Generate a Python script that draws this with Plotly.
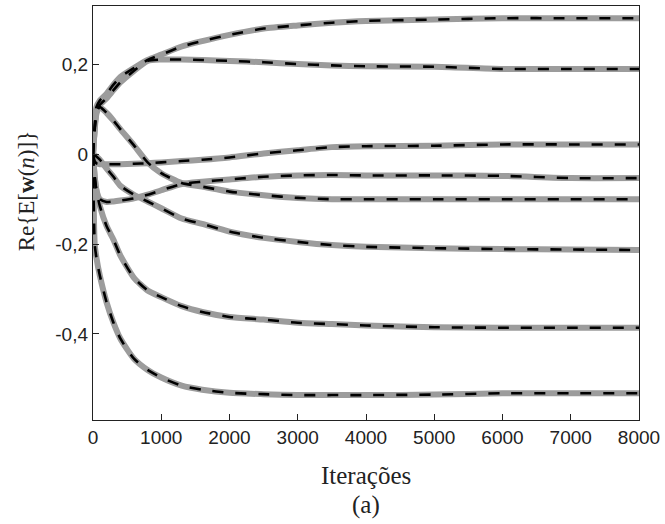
import plotly.graph_objects as go

# Iteration instants at which each coefficient trajectory is sampled
iteracoes = [0, 25, 50, 100, 200, 300, 400, 600, 800, 1000, 1300, 1600,
             2000, 2500, 3000, 3500, 4000, 5000, 6000, 7000, 8000]

# Real part of the mean weight vector, one list per coefficient
w1 = [0, 0.060, 0.105, 0.120, 0.135, 0.155, 0.172, 0.192, 0.210, 0.222, 0.240, 0.252,
      0.266, 0.280, 0.287, 0.293, 0.297, 0.300, 0.303, 0.303, 0.303]
w2 = [0, 0.055, 0.090, 0.110, 0.125, 0.143, 0.160, 0.186, 0.208, 0.211, 0.211, 0.210,
      0.208, 0.205, 0.201, 0.198, 0.196, 0.195, 0.190, 0.190, 0.190]
w3 = [0, -0.015, -0.020, -0.022, -0.022, -0.022, -0.022, -0.021, -0.020, -0.018, -0.015, -0.012,
      -0.007, 0.002, 0.009, 0.016, 0.018, 0.019, 0.022, 0.022, 0.022]
w4 = [0, -0.050, -0.080, -0.100, -0.106, -0.105, -0.103, -0.098, -0.090, -0.080, -0.066, -0.061,
      -0.056, -0.050, -0.047, -0.046, -0.047, -0.047, -0.048, -0.053, -0.053]
w5 = [0, 0.060, 0.095, 0.105, 0.092, 0.075, 0.056, 0.020, -0.018, -0.042, -0.064, -0.072,
      -0.083, -0.091, -0.097, -0.100, -0.100, -0.100, -0.100, -0.100, -0.100]
w6 = [0, -0.002, -0.005, -0.012, -0.032, -0.050, -0.070, -0.090, -0.105, -0.120, -0.143, -0.155,
      -0.172, -0.186, -0.195, -0.202, -0.206, -0.209, -0.211, -0.212, -0.213]
w7 = [0, -0.050, -0.080, -0.115, -0.160, -0.190, -0.225, -0.275, -0.303, -0.318, -0.338, -0.351,
      -0.362, -0.368, -0.375, -0.378, -0.381, -0.385, -0.386, -0.386, -0.386]
w8 = [0, -0.200, -0.230, -0.270, -0.330, -0.375, -0.410, -0.455, -0.480, -0.497, -0.515, -0.524,
      -0.531, -0.534, -0.536, -0.536, -0.536, -0.535, -0.532, -0.532, -0.532]

coeficientes = [w1, w2, w3, w4, w5, w6, w7, w8]

y_tick_vals = [-0.4, -0.2, 0, 0.2]
y_tick_text = ["-0,4", "-0,2", "0", "0,2"]
x_tick_vals = [0, 1000, 2000, 3000, 4000, 5000, 6000, 7000, 8000]

fig = go.Figure()

# Simulated trajectories: thick grey lines
for w in coeficientes:
    fig.add_trace(go.Scatter(
        x=iteracoes, y=w, mode="lines",
        line=dict(color="#9c9c9c", width=6, shape="spline", smoothing=0.6),
        showlegend=False, hoverinfo="skip"))

# Theoretical model: black dashed lines on top
for w in coeficientes:
    fig.add_trace(go.Scatter(
        x=iteracoes, y=w, mode="lines",
        line=dict(color="black", width=2.6, dash="11px,12px", shape="spline", smoothing=0.6),
        showlegend=False, hoverinfo="skip"))

sans = "Liberation Sans"
serif = "Liberation Serif"

axis_common = dict(
    showline=True, linecolor="#222222", linewidth=1.3, mirror=True,
    ticks="inside", ticklen=6, tickwidth=1, tickcolor="#222222",
    showgrid=False, zeroline=False,
    tickfont=dict(family=sans, size=19, color="#222222"),
)

fig.update_xaxes(range=[0, 8000], tickvals=x_tick_vals,
                 ticktext=[str(v) for v in x_tick_vals], **axis_common)
fig.update_yaxes(range=[-0.5915, 0.3302], tickvals=y_tick_vals,
                 ticktext=y_tick_text, **axis_common)

fig.add_annotation(text="Iterações", xref="paper", yref="paper",
                   x=0.5, y=-0.133, xanchor="center", yanchor="middle",
                   showarrow=False, font=dict(family=serif, size=25, color="#222222"))
fig.add_annotation(text="(a)", xref="paper", yref="paper",
                   x=0.5, y=-0.205, xanchor="center", yanchor="middle",
                   showarrow=False, font=dict(family=serif, size=25, color="#222222"))
fig.add_annotation(text="Re{E[<b>w</b>(<i>n</i>)]}", xref="paper", yref="paper",
                   x=-0.1223, y=0.553, xanchor="center", yanchor="middle", textangle=-90,
                   showarrow=False, font=dict(family=serif, size=23, color="#222222"))

fig.update_layout(
    width=665, height=524,
    margin=dict(l=93, r=26, t=6, b=104),
    plot_bgcolor="white", paper_bgcolor="white",
)

fig.write_html("out.html")
